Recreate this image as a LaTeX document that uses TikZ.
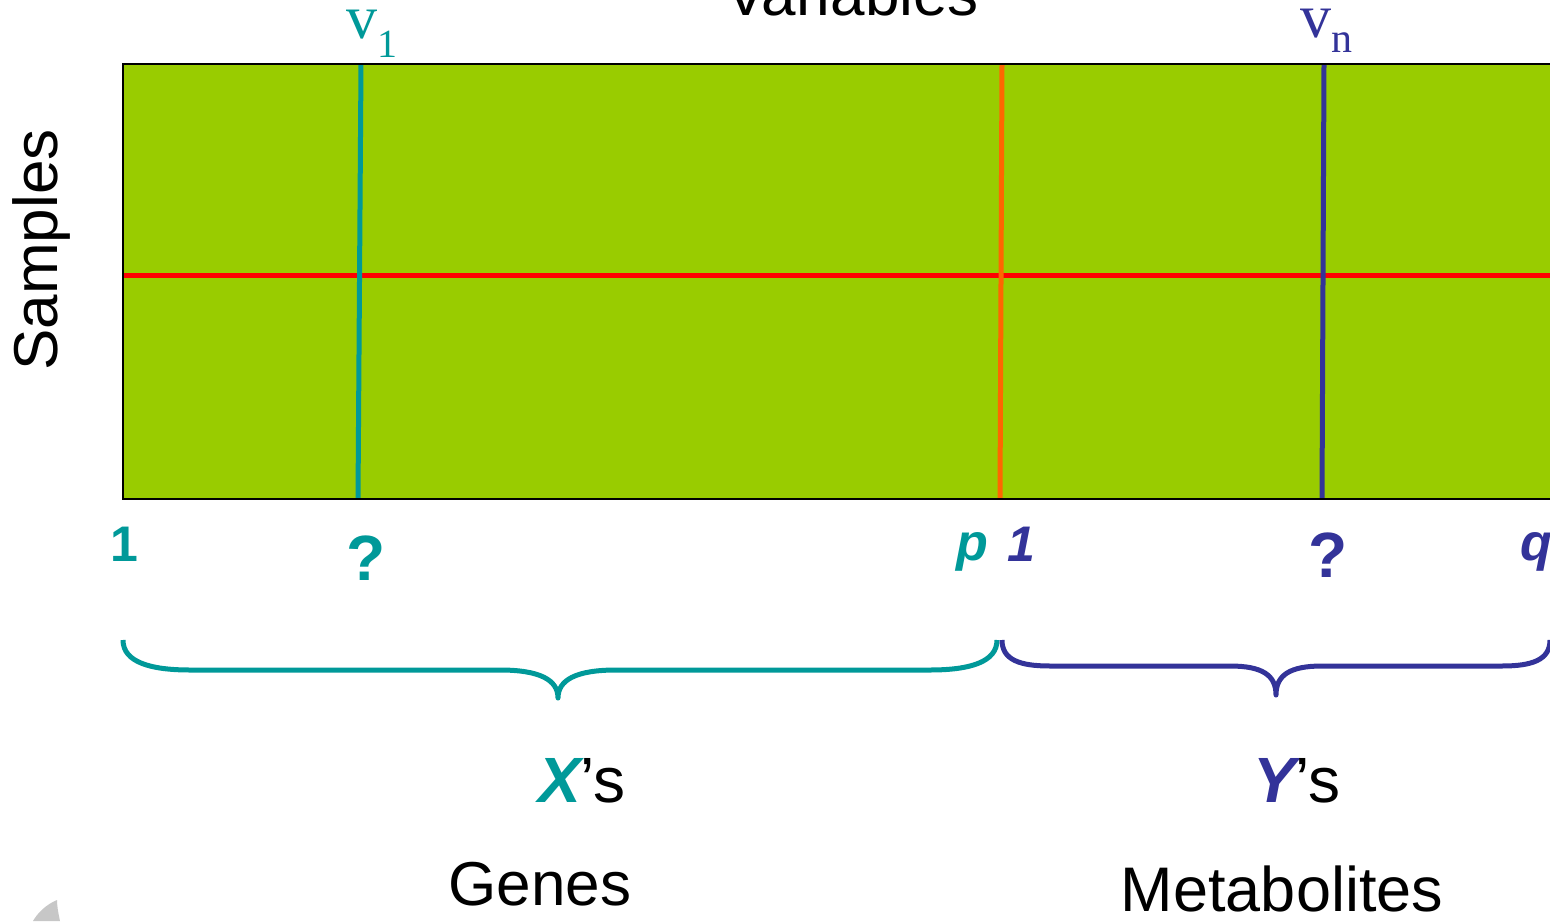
\documentclass[tikz,border=0pt]{standalone}
\usepackage{fontspec}
\setmainfont{Liberation Sans}
\newfontfamily\serifv{Liberation Serif}
\definecolor{cgreen}{HTML}{99CC00}
\definecolor{cteal}{HTML}{009999}
\definecolor{cnavy}{HTML}{333399}
\definecolor{cred}{HTML}{FF0000}
\definecolor{corange}{HTML}{FF6600}
\newcommand{\fs}[1]{\fontsize{#1}{#1}\selectfont}
\begin{document}
\begin{tikzpicture}[x=1pt,y=-1pt,
  lbl/.style={inner sep=0pt, outer sep=0pt, anchor=base},
  vline/.style={line width=5pt},
  brace/.style={line width=5pt, line join=round}]
\clip (0,0) rectangle (1550,921);
\fill[white] (0,0) rectangle (1550,921);
% matrix
\fill[cgreen] (123,64) rectangle (1600,499);
\coordinate (tl) at (123,64);
\coordinate (br) at (1600,499);
\coordinate (hl) at (123,275);
\coordinate (hr) at (1600,275);
\coordinate (v1t) at (361,64);
\coordinate (v1b) at (358,499);
\coordinate (ot) at (1002,64);
\coordinate (ob) at (1000,499);
\coordinate (vnt) at (1324,64);
\coordinate (vnb) at (1322,499);
\draw[vline, cred] (hl) -- (hr);
\draw[vline, cteal] (v1t) -- (v1b);
\draw[vline, corange] (ot) -- (ob);
\draw[vline, cnavy] (vnt) -- (vnb);
\draw[line width=2.2pt, black] (tl) rectangle (br);
% titles
\node[lbl] (var) at (852,15) {\fs{62}Variables};
\node[lbl, rotate=90] (samp) at (57,250) {\fs{62}Samples};
\node[lbl, anchor=base west, text=cteal] (v1) at (346,38) {\serifv\fs{62}v\raisebox{-19pt}{\fs{40}1}};
\node[lbl, anchor=base west, text=cnavy] (vn) at (1300,37) {\serifv\fs{62}v\raisebox{-15pt}{\fs{42}n}};
% indices
\node[lbl, text=cteal] (x1) at (124,561) {\fs{50}\bfseries 1};
\node[lbl, text=cteal] (xq) at (366,580) {\fs{64}\bfseries ?};
\node[lbl, text=cteal] (xp) at (972,560) {\fs{52}\bfseries\itshape p};
\node[lbl, text=cnavy] (y1) at (1021,561) {\fs{50}\bfseries\itshape 1};
\node[lbl, text=cnavy] (yq) at (1328,577) {\fs{64}\bfseries ?};
\node[lbl, text=cnavy] (yqq) at (1536,560) {\fs{52}\bfseries\itshape q};
% braces
\draw[brace, cteal] (123,640) .. controls (123,662) and (150,670) .. (190,670)
  -- (500,670) .. controls (540,670) and (558,680) .. (558,698)
  .. controls (558,680) and (576,670) .. (616,670)
  -- (930,670) .. controls (970,670) and (997,662) .. (997,640);
\draw[brace, cnavy] (1002,640) .. controls (1002,660) and (1020,666) .. (1050,666)
  -- (1230,666) .. controls (1262,666) and (1276,675) .. (1276,695)
  .. controls (1276,675) and (1290,666) .. (1322,666)
  -- (1502,666) .. controls (1532,666) and (1550,660) .. (1550,640);
% groups
\node[lbl, anchor=base west] (xs) at (538,802) {\fs{64}\textcolor{cteal}{\bfseries\itshape X}’s};
\node[lbl, anchor=base west] (ys) at (1253,802) {\fs{64}\textcolor{cnavy}{\bfseries\itshape Y}’s};
\node[lbl] (genes) at (540,905) {\fs{62}Genes};
\node[lbl] (metab) at (1282,911) {\fs{63}Metabolites};
% corner artifact
\fill[black!22] (57,900) .. controls (45,905) and (37,914) .. (33,921) -- (60,921) .. controls (58,912) and (57,905) .. (57,900);
\end{tikzpicture}
\end{document}
